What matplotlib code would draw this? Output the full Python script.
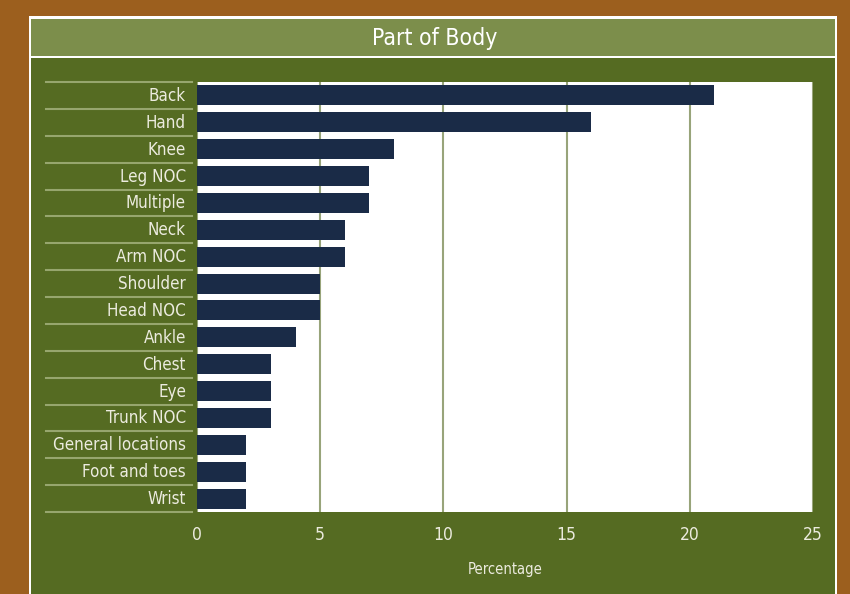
import matplotlib.pyplot as plt
from matplotlib.patches import Rectangle
from matplotlib.lines import Line2D
import matplotlib.transforms as mtransforms

# данные
parts = ["Back", "Hand", "Knee", "Leg NOC", "Multiple", "Neck", "Arm NOC",
         "Shoulder", "Head NOC", "Ankle", "Chest", "Eye", "Trunk NOC",
         "General locations", "Foot and toes", "Wrist"]
percent = [21, 16, 8, 7, 7, 6, 6, 5, 5, 4, 3, 3, 3, 2, 2, 2]
xticks = [0, 5, 10, 15, 20, 25]

W, H = 850, 594
brown = "#9C5F1E"
light_green = "#7C8E4B"
dark_green = "#556B22"
bar_color = "#1A2B47"
text_color = "#ECEBDF"
fonts = ["DejaVu Sans"]
stretch = "condensed"

fig = plt.figure(figsize=(W / 100, H / 100), dpi=100, facecolor=brown)

def rect(x0, y0, x1, y1, color):
    # координаты в пикселях, y сверху вниз
    fig.add_artist(Rectangle((x0 / W, 1 - y1 / H), (x1 - x0) / W, (y1 - y0) / H,
                             transform=fig.transFigure, facecolor=color,
                             edgecolor="none", zorder=0))

rect(29, 16, 837, 600, "white")
rect(31, 19, 835, 56, light_green)
rect(31, 58, 835, 600, dark_green)

fig.text(435 / W, 1 - 39 / H, "Part of Body", ha="center", va="center",
         color="white", fontsize=16.5, family=fonts, stretch=stretch)

ax = fig.add_axes([197 / W, 1 - 512 / H, 616 / W, 430 / H])
ax.set_facecolor("white")
y = list(range(len(parts)))
ax.barh(y, percent, height=0.74, color=bar_color, zorder=3)
ax.set_xlim(0, 25)
ax.set_ylim(len(parts) - 0.5, -0.5)
ax.set_xticks(xticks)
ax.set_yticks(y)
ax.set_yticklabels(parts)
for s in ax.spines.values():
    s.set_visible(False)
ax.tick_params(length=0, colors=text_color, labelsize=12.5)
ax.tick_params(axis="y", pad=8, labelsize=12.2)
ax.tick_params(axis="x", pad=10)
for lab in ax.get_xticklabels() + ax.get_yticklabels():
    lab.set_family(fonts)
    lab.set_stretch(stretch)
up = mtransforms.ScaledTranslation(0, 1.5 / 100, fig.dpi_scale_trans)
for lab in ax.get_yticklabels():
    lab.set_verticalalignment("center_baseline")
    lab.set_transform(lab.get_transform() + up)
ax.grid(axis="x", color="#98A47A", lw=1.5, zorder=1)
ax.set_xlabel("Percentage", color=text_color, fontsize=10.5, family=fonts,
              stretch=stretch, labelpad=13)

# разделители строк слева
tr = mtransforms.blended_transform_factory(fig.transFigure, ax.transData)
for i in range(len(parts) + 1):
    ax.add_line(Line2D([46 / W, 192 / W], [i - 0.5, i - 0.5], transform=tr,
                       color="#97A66E", lw=1.5, clip_on=False))

fig.savefig("out.png", dpi=100, facecolor=brown)
